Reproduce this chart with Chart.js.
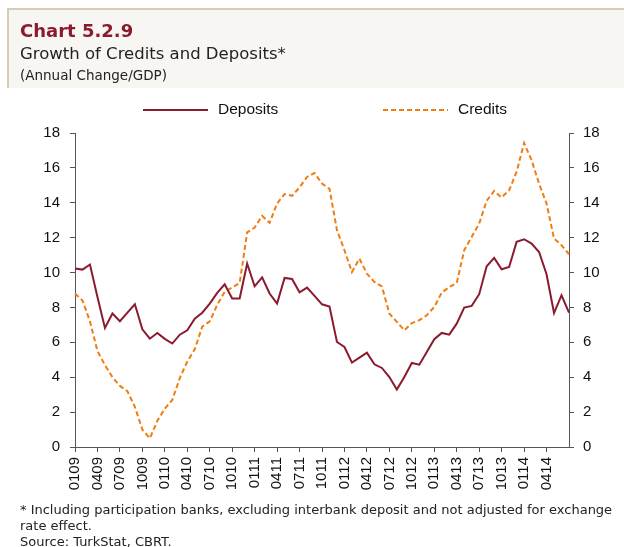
<!DOCTYPE html>
<html><head><meta charset="utf-8">
<script src="https://cdn.jsdelivr.net/npm/chart.js@4.4.1/dist/chart.umd.min.js"></script>
<style>
html,body{margin:0;padding:0;background:#fff;}
#wrap{position:relative;width:624px;height:547px;overflow:hidden;background:#fff;}
#hdr{position:absolute;left:7px;top:8px;width:617px;height:78px;background:#f7f6f2;border-top:2px solid #d8ccb4;border-left:2px solid #d8ccb4;}
.t{position:absolute;left:20px;white-space:nowrap;font-family:"DejaVu Sans",sans-serif;color:#222;}
#t1{top:20px;font-size:18px;font-weight:bold;color:#8b1a2e;}
#t2{top:44px;font-size:16.5px;}
#t3{top:67px;font-size:13.5px;}
#f1{top:502px;font-size:13px;}
#f2{top:518px;font-size:13px;}
#f3{top:534px;font-size:13px;}
canvas{position:absolute;left:0;top:0;}
</style></head>
<body>
<div id="wrap">
<div id="hdr"></div>
<canvas id="c" width="624" height="547"></canvas>
<div class="t" id="t1">Chart 5.2.9</div>
<div class="t" id="t2">Growth of Credits and Deposits*</div>
<div class="t" id="t3">(Annual Change/GDP)</div>
<div class="t" id="f1">* Including participation banks, excluding interbank deposit and not adjusted for exchange</div>
<div class="t" id="f2">rate effect.</div>
<div class="t" id="f3">Source: TurkStat, CBRT.</div>
</div>
<script>
const categories = [
 "0109","0209","0309","0409","0509","0609","0709","0809","0909","1009","1109","1209",
 "0110","0210","0310","0410","0510","0610","0710","0810","0910","1010","1110","1210",
 "0111","0211","0311","0411","0511","0611","0711","0811","0911","1011","1111","1211",
 "0112","0212","0312","0412","0512","0612","0712","0812","0912","1012","1112","1212",
 "0113","0213","0313","0413","0513","0613","0713","0813","0913","1013","1113","1213",
 "0114","0214","0314","0414","0514","0614","0714"
];
const deposits = [
 10.23,10.17,10.46,8.6,6.82,7.65,7.21,7.7,8.18,6.75,6.21,6.54,
 6.2,5.93,6.44,6.69,7.36,7.7,8.22,8.83,9.33,8.51,8.51,10.52,
 9.21,9.73,8.8,8.22,9.69,9.63,8.87,9.14,8.66,8.18,8.05,6.02,
 5.73,4.84,5.12,5.41,4.74,4.53,4.01,3.29,4.01,4.82,4.72,5.45,
 6.18,6.54,6.44,7.07,7.99,8.09,8.76,10.36,10.84,10.19,10.32,11.76,
 11.91,11.66,11.18,9.9,7.68,8.7,7.7
];
const credits = [
 8.8,8.4,7.2,5.5,4.7,4.0,3.5,3.2,2.3,1.0,0.5,1.5,
 2.2,2.7,3.95,4.9,5.6,6.9,7.2,8.15,8.9,9.15,9.4,12.3,
 12.58,13.25,12.85,13.96,14.5,14.4,14.88,15.48,15.71,15.1,14.8,12.43,
 11.28,10.03,10.8,9.94,9.46,9.21,7.65,7.17,6.69,7.1,7.27,7.55,
 8.03,8.85,9.17,9.4,11.28,12.04,12.81,14.11,14.68,14.3,14.72,15.77,
 17.43,16.44,15.1,13.96,11.95,11.57,11.05
];
const yTicks = [0,2,4,6,8,10,12,14,16,18];
const labelEvery = 3;
const lastLabelIndex = 63;

const showIdx = i => i % labelEvery === 0 && i <= lastLabelIndex;
const tickFont = {family:"Liberation Sans", size:15};
const axisColor = '#555';

const legendPlugin = {
  id:'customLegend',
  afterDraw(chart){
    const ctx = chart.ctx;
    const items = [
      {ds:0, x0:143, x1:208, tx:218},
      {ds:1, x0:383, x1:448, tx:458}
    ];
    const y = 110;
    ctx.save();
    items.forEach(it=>{
      const d = chart.data.datasets[it.ds];
      ctx.beginPath();
      ctx.strokeStyle = d.borderColor;
      ctx.lineWidth = d.borderWidth;
      ctx.setLineDash(d.borderDash || []);
      ctx.moveTo(it.x0, y); ctx.lineTo(it.x1, y);
      ctx.stroke();
      ctx.setLineDash([]);
      ctx.fillStyle = '#111';
      ctx.font = '15.5px "Liberation Sans"';
      ctx.textBaseline = 'middle';
      ctx.fillText(d.label, it.tx, y);
    });
    ctx.restore();
  }
};

const yAxis = (pos, w, pad) => ({
  position:pos, min:0, max:18,
  afterBuildTicks: s => { s.ticks = yTicks.map(v=>({value:v})); },
  ticks:{font:tickFont, color:'#111', padding:pad},
  grid:{drawOnChartArea:false, drawTicks:true, tickLength:5, color:axisColor},
  border:{color:axisColor, width:1},
  afterFit: s => { s.width = w; }
});

new Chart(document.getElementById('c'), {
  type:'line',
  data:{
    labels:categories,
    datasets:[
      {label:'Deposits', data:deposits, borderColor:'#8b1a2e', borderWidth:2, pointRadius:0, tension:0, yAxisID:'y', fill:false},
      {label:'Credits', data:credits, borderColor:'#f07d0e', borderWidth:2, borderDash:[5,3], pointRadius:0, tension:0, yAxisID:'y', fill:false}
    ]
  },
  options:{
    responsive:false, animation:false,
    layout:{padding:{top:133,left:0,right:0,bottom:0}},
    plugins:{legend:{display:false}, tooltip:{enabled:false}},
    scales:{
      x:{
        type:'category', offset:false,
        grid:{drawOnChartArea:false, drawTicks:true, tickLength:5,
              color: c => showIdx(c.index) ? axisColor : 'rgba(0,0,0,0)'},
        border:{color:axisColor, width:1},
        ticks:{autoSkip:false, maxRotation:90, minRotation:90, padding:5, font:tickFont, color:'#111',
               callback:(v,i)=> showIdx(i) ? categories[i] : ''},
        afterFit: s => { s.height = 100; }
      },
      y: yAxis('left', 75, 10),
      y2: yAxis('right', 55, 9)
    }
  },
  plugins:[legendPlugin]
});
</script>
</body></html>
